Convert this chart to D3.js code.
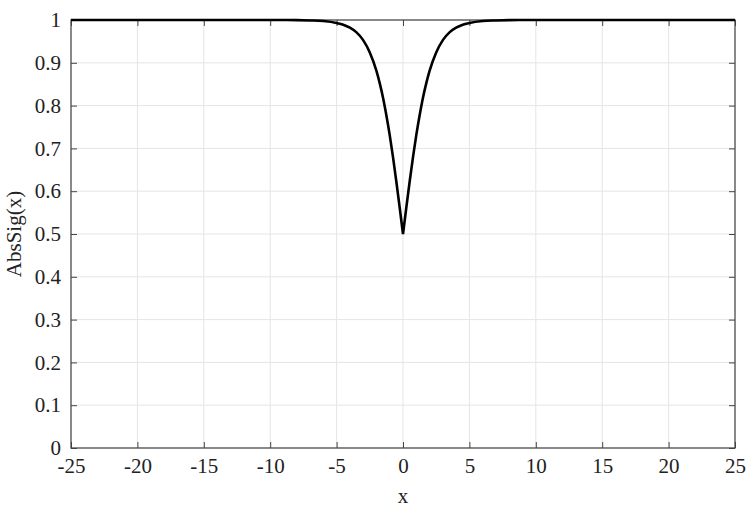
<!DOCTYPE html>
<html>
<head>
<meta charset="utf-8">
<script src="https://cdn.jsdelivr.net/npm/d3@7"></script>
<style>
  body { margin: 0; background: #fff; }
  svg, svg text { font-family: "Liberation Serif", "Times New Roman", Times, serif; }
  svg { display: block; }
</style>
</head>
<body>
<svg id="chart"></svg>
<script>
// values (right half; left half mirrors it)
const xRight = [0, 0.25, 0.5, 0.75, 1, 1.25, 1.5, 1.75, 2, 2.5, 3, 3.5, 4, 4.5, 5, 6, 7, 8, 10, 15, 20, 25];
const yRight = [0.5, 0.562, 0.622, 0.679, 0.731, 0.777, 0.818, 0.852, 0.881, 0.924, 0.953, 0.971, 0.982, 0.989, 0.993, 0.9975, 0.999, 0.9997, 1, 1, 1, 1];
const xTicks = [-25, -20, -15, -10, -5, 0, 5, 10, 15, 20, 25];
const yTicks = [0, 0.1, 0.2, 0.3, 0.4, 0.5, 0.6, 0.7, 0.8, 0.9, 1];

const width = 747;
const height = 511;
const margin = { top: 20, right: 12, bottom: 63, left: 71 };

const svg = d3.select("#chart").attr("width", width).attr("height", height);

const x = d3.scaleLinear().domain([-25, 25]).range([margin.left, width - margin.right]);
const y = d3.scaleLinear().domain([0, 1]).range([height - margin.bottom, margin.top]);

// grid
svg.append("g")
  .selectAll("line")
  .data(xTicks)
  .join("line")
  .attr("x1", (d) => x(d)).attr("x2", (d) => x(d))
  .attr("y1", y(0)).attr("y2", y(1))
  .attr("stroke", "#e5e5e5");
svg.append("g")
  .selectAll("line")
  .data(yTicks)
  .join("line")
  .attr("x1", x(-25)).attr("x2", x(25))
  .attr("y1", (d) => y(d)).attr("y2", (d) => y(d))
  .attr("stroke", "#e5e5e5");

// axes, ticks pointing inward on all four sides
const fmt = (d) => String(d);
const styleAxis = (g) => {
  g.attr("font-family", null).attr("font-size", 21);
  g.select(".domain").remove();
  g.selectAll(".tick line").attr("stroke", "#444");
  g.selectAll(".tick text").attr("fill", "#222");
};

svg.append("g")
  .attr("transform", `translate(0,${y(0)})`)
  .call(d3.axisBottom(x).tickValues(xTicks).tickFormat(fmt).tickSizeInner(-6).tickSizeOuter(0).tickPadding(10))
  .call(styleAxis);
svg.append("g")
  .attr("transform", `translate(0,${y(1)})`)
  .call(d3.axisTop(x).tickValues(xTicks).tickFormat("").tickSizeInner(-6).tickSizeOuter(0))
  .call(styleAxis);
svg.append("g")
  .attr("transform", `translate(${x(-25)},0)`)
  .call(d3.axisLeft(y).tickValues(yTicks).tickFormat(fmt).tickSizeInner(-6).tickSizeOuter(0).tickPadding(10))
  .call(styleAxis);
svg.append("g")
  .attr("transform", `translate(${x(25)},0)`)
  .call(d3.axisRight(y).tickValues(yTicks).tickFormat("").tickSizeInner(-6).tickSizeOuter(0))
  .call(styleAxis);

// frame
svg.append("rect")
  .attr("x", x(-25)).attr("y", y(1))
  .attr("width", x(25) - x(-25)).attr("height", y(0) - y(1))
  .attr("fill", "none").attr("stroke", "#444").attr("stroke-width", 1.2);

// curve: two monotone halves so the cusp at 0 stays sharp
const right = xRight.map((d, i) => ({ x: d, y: yRight[i] }));
const left = right.map((d) => ({ x: -d.x, y: d.y })).reverse();
const line = d3.line().x((d) => x(d.x)).y((d) => y(d.y)).curve(d3.curveMonotoneX);

svg.append("path")
  .attr("d", line(left) + line(right).replace(/^M/, "L"))
  .attr("fill", "none")
  .attr("stroke", "#000")
  .attr("stroke-width", 2.6)
  .attr("stroke-linejoin", "miter");

// labels
svg.append("text")
  .attr("x", (x(-25) + x(25)) / 2)
  .attr("y", 503)
  .attr("text-anchor", "middle")
  .attr("font-size", 21)
  .attr("fill", "#222")
  .text("x");

svg.append("text")
  .attr("transform", `translate(21,${(y(0) + y(1)) / 2}) rotate(-90)`)
  .attr("text-anchor", "middle")
  .attr("font-size", 21)
  .attr("fill", "#222")
  .text("AbsSig(x)");
</script>
</body>
</html>
